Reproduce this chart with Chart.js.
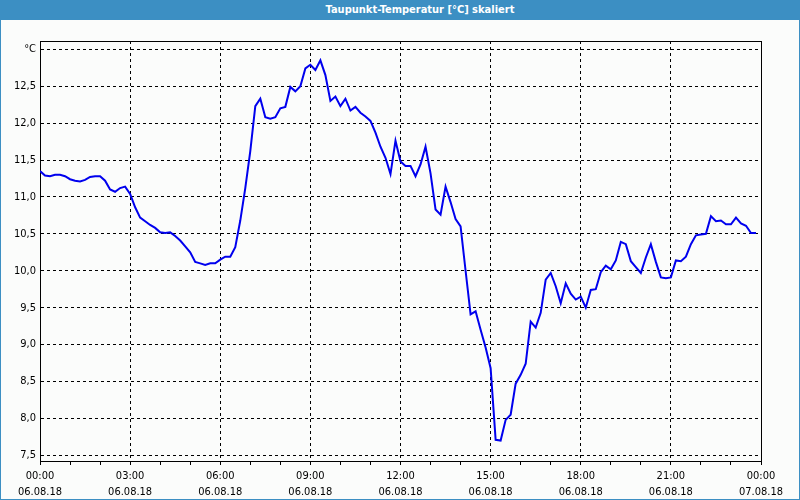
<!DOCTYPE html>
<html>
<head>
<meta charset="utf-8">
<script src="https://cdn.jsdelivr.net/npm/chart.js@4"></script>
<style>
  body { margin: 0; background: #fff; }
  #win {
    position: relative; width: 800px; height: 500px; box-sizing: border-box;
    border: 1px solid #3c8fc3; border-top: none; background: #fbfcfb;
  }
  #title {
    height: 20px; margin: 0 -1px; padding-left: 40px; background: #3c8fc3; color: #fff;
    font: bold 11px "DejaVu Sans Condensed", "DejaVu Sans", sans-serif;
    line-height: 20px; text-align: center;
  }
  #box { position: absolute; left: 0; top: 20px; width: 798px; height: 479px; }
</style>
</head>
<body>
<div id="win">
  <div id="title">Taupunkt-Temperatur [°C] skaliert</div>
  <div id="box"><canvas id="dewChart"></canvas></div>
</div>
<script>
// measurement times (06.08.18), every 10 minutes
const times = [
  "00:00","00:10","00:20","00:30","00:40","00:50","01:00","01:10","01:20","01:30","01:40","01:50",
  "02:00","02:10","02:20","02:30","02:40","02:50","03:00","03:10","03:20","03:30","03:40","03:50",
  "04:00","04:10","04:20","04:30","04:40","04:50","05:00","05:10","05:20","05:30","05:40","05:50",
  "06:00","06:10","06:20","06:30","06:40","06:50","07:00","07:10","07:20","07:30","07:40","07:50",
  "08:00","08:10","08:20","08:30","08:40","08:50","09:00","09:10","09:20","09:30","09:40","09:50",
  "10:00","10:10","10:20","10:30","10:40","10:50","11:00","11:10","11:20","11:30","11:40","11:50",
  "12:00","12:10","12:20","12:30","12:40","12:50","13:00","13:10","13:20","13:30","13:40","13:50",
  "14:00","14:10","14:20","14:30","14:40","14:50","15:00","15:10","15:20","15:30","15:40","15:50",
  "16:00","16:10","16:20","16:30","16:40","16:50","17:00","17:10","17:20","17:30","17:40","17:50",
  "18:00","18:10","18:20","18:30","18:40","18:50","19:00","19:10","19:20","19:30","19:40","19:50",
  "20:00","20:10","20:20","20:30","20:40","20:50","21:00","21:10","21:20","21:30","21:40","21:50",
  "22:00","22:10","22:20","22:30","22:40","22:50","23:00","23:10","23:20","23:30","23:40","23:50"
];

// dew point in °C
const dewPoint = [
  11.35,11.29,11.28,11.30,11.30,11.28,11.24,11.22,11.21,11.23,11.27,11.28,
  11.28,11.22,11.10,11.07,11.12,11.14,11.04,10.86,10.72,10.67,10.62,10.58,
  10.52,10.51,10.52,10.47,10.41,10.33,10.25,10.12,10.10,10.08,10.10,10.10,
  10.15,10.19,10.19,10.32,10.68,11.12,11.62,12.23,12.33,12.08,12.06,12.08,
  12.20,12.22,12.49,12.43,12.50,12.74,12.79,12.72,12.85,12.65,12.30,12.36,
  12.23,12.33,12.17,12.22,12.14,12.09,12.03,11.87,11.68,11.53,11.31,11.76,
  11.48,11.42,11.42,11.28,11.44,11.68,11.32,10.83,10.76,11.14,10.93,10.70,
  10.60,10.00, 9.41, 9.45, 9.20, 8.96, 8.68, 7.71, 7.70, 7.98, 8.05, 8.47,
   8.59, 8.74, 9.31, 9.23, 9.43, 9.88, 9.97, 9.79, 9.56, 9.83, 9.69, 9.61,
   9.65, 9.50, 9.74, 9.75, 9.98,10.07,10.02,10.14,10.39,10.36,10.13,10.05,
   9.97,10.18,10.36,10.12, 9.91, 9.90, 9.91,10.14,10.13,10.19,10.36,10.48,
  10.49,10.50,10.74,10.67,10.68,10.63,10.63,10.72,10.64,10.61,10.51,10.51
];

// x axis labels, every 3 hours
const tickTimes = ["00:00","03:00","06:00","09:00","12:00","15:00","18:00","21:00","00:00"];
const tickDates = ["06.08.18","06.08.18","06.08.18","06.08.18","06.08.18","06.08.18","06.08.18","06.08.18","07.08.18"];

const yMin = 7.423;
const yMax = 13.112;

function toMinutes(s) {
  const [h, m] = s.split(":");
  return Number(h) * 60 + Number(m);
}

const points = times.map((t, i) => ({ x: toMinutes(t), y: dewPoint[i] }));

const frame = {
  id: "frame",
  beforeDatasetsDraw(chart) {
    const { ctx, chartArea: a } = chart;
    ctx.save();
    ctx.strokeStyle = "#000";
    ctx.lineWidth = 1;
    ctx.strokeRect(Math.round(a.left) + 0.5, Math.round(a.top) + 0.5,
      Math.round(a.right - a.left), Math.round(a.bottom - a.top));
    ctx.restore();
  }
};

const font = { family: "'DejaVu Sans Condensed', 'DejaVu Sans', sans-serif", size: 11 };

new Chart(document.getElementById("dewChart"), {
  type: "line",
  data: {
    datasets: [{
      data: points,
      borderColor: "#0000ee",
      borderWidth: 2,
      pointRadius: 0,
      tension: 0,
      fill: false
    }]
  },
  options: {
    responsive: true,
    maintainAspectRatio: false,
    animation: false,
    layout: { padding: { top: 21, right: 38, left: 0, bottom: 0 } },
    plugins: { legend: { display: false }, tooltip: { enabled: false } },
    scales: {
      x: {
        type: "linear",
        min: 0,
        max: 1440,
        afterFit(scale) { scale.height = 38; },
        border: { color: "#000", dash: [3, 3] },
        grid: {
          color: c => (c.tick && c.tick.value % 180 === 0) ? "#000" : "rgba(0,0,0,0)",
          tickColor: "#000",
          tickLength: 4
        },
        ticks: {
          stepSize: 60,
          autoSkip: false,
          maxRotation: 0,
          padding: 3,
          color: "#000",
          font: { ...font, lineHeight: 1.45 },
          callback: v => v % 180 === 0 ? [tickTimes[v / 180], tickDates[v / 180]] : ""
        }
      },
      y: {
        min: yMin,
        max: yMax,
        afterFit(scale) { scale.width = 39; },
        border: { color: "#000", dash: [3, 3] },
        grid: { color: "#000", drawTicks: false },
        ticks: {
          stepSize: 0.5,
          includeBounds: false,
          padding: 4,
          color: "#000",
          font: font,
          callback: v => Math.abs(v - 13) < 1e-6 ? "°C" : v.toFixed(1).replace(".", ",")
        }
      }
    }
  },
  plugins: [frame]
});
</script>
</body>
</html>
